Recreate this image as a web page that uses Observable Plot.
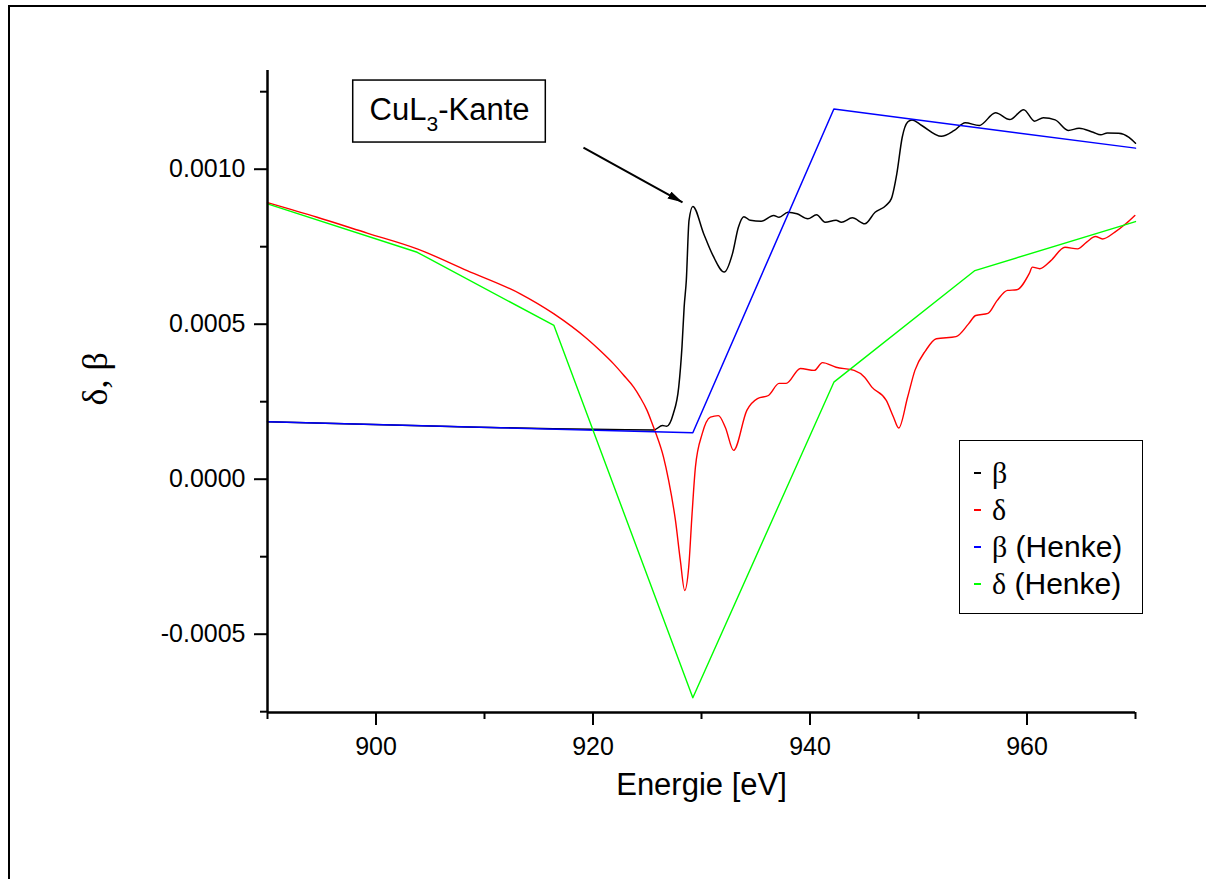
<!DOCTYPE html>
<html><head><meta charset="utf-8">
<script src="https://cdn.jsdelivr.net/npm/d3@7"></script>
<script src="https://cdn.jsdelivr.net/npm/@observablehq/plot@0.6"></script>
<style>
html,body{margin:0;padding:0;background:#fff;overflow:hidden;}
#wrap{position:relative;width:1206px;height:879px;overflow:hidden;}
#chart{position:absolute;left:0;top:0;}
#border{position:absolute;left:8px;top:5px;width:1300px;height:1000px;border-top:2px solid #000;border-left:2px solid #000;pointer-events:none;}
#legend{position:absolute;left:959px;top:440px;width:182px;height:172px;border:1.5px solid #000;background:#fff;font-family:"Liberation Sans",Arial,sans-serif;font-size:30px;color:#000;}
.row{position:absolute;left:0;height:34px;display:flex;align-items:center;white-space:pre;}
.dash{width:7px;height:2px;margin-left:14px;margin-right:11px;}
.g{font-family:"Liberation Serif","Times New Roman",serif;font-size:30px;}
</style></head>
<body><div id="wrap"><div id="chart"></div><div id="legend"></div><div id="border"></div></div>
<script>
// ---- data (values in units of 1e-4) ----
const UNIT = 1e-4;
const betaE = [890, 906.8, 925.6, 926.4, 926.8, 927.4, 927.9, 928.2, 928.4, 928.6, 928.85, 929.2, 930.2, 931.05, 932.1, 932.85, 933.4, 933.9, 934.5, 935.5, 936.65, 937.15, 937.97, 938.8, 939.8, 940.6, 941.4, 942.4, 942.9, 943.9, 945.05, 946.0, 947.0, 947.5, 948.0, 948.5, 949.0, 949.4, 950.3, 952.1, 953.3, 954.3, 955.6, 957.1, 958.4, 959.7, 960.7, 961.5, 962.6, 963.8, 964.8, 966.1, 966.8, 967.4, 968.45, 969.4, 970];
const betaV = [1.85, 1.70, 1.59, 1.73, 1.71, 2.11, 2.97, 4.26, 5.55, 6.41, 8.35, 8.80, 7.92, 7.22, 6.68, 7.27, 8.13, 8.47, 8.35, 8.32, 8.51, 8.45, 8.61, 8.56, 8.40, 8.53, 8.29, 8.35, 8.29, 8.43, 8.24, 8.61, 8.83, 9.05, 9.85, 11.03, 11.52, 11.59, 11.41, 11.06, 11.25, 11.50, 11.41, 11.82, 11.60, 11.92, 11.55, 11.66, 11.59, 11.25, 11.32, 11.19, 11.11, 11.17, 11.16, 11.03, 10.84];
const deltaE = [890, 894.57, 899.18, 903.79, 908.4, 913.3, 916.37, 919.45, 920.65, 921.9, 922.79, 923.75, 924.33, 924.98, 925.41, 925.75, 926.5, 926.97, 927.6, 928.05, 928.45, 928.82, 929.13, 929.44, 930.06, 930.82, 931.55, 932.2, 932.96, 934.18, 935.16, 936.17, 937.15, 937.8, 939.12, 940.4, 941.15, 942.4, 944.07, 945.03, 945.7, 947.03, 947.7, 948.18, 949.0, 949.67, 950.66, 951.64, 953.46, 954.61, 955.27, 956.4, 957.24, 958.2, 959.05, 960.2, 960.5, 961.17, 962.2, 963.5, 964.66, 965.5, 966.3, 966.96, 968.1, 969.1, 969.94];
const deltaV = [8.92, 8.45, 7.94, 7.43, 6.73, 5.98, 5.34, 4.53, 4.15, 3.72, 3.37, 2.97, 2.65, 2.22, 1.84, 1.52, 0.71, -0.04, -1.33, -2.62, -3.59, -2.84, -1.12, 0.39, 1.46, 2.00, 2.05, 1.67, 0.93, 2.22, 2.60, 2.70, 3.09, 3.09, 3.57, 3.51, 3.76, 3.61, 3.51, 3.29, 2.97, 2.54, 2.00, 1.65, 2.65, 3.51, 4.15, 4.53, 4.60, 5.01, 5.28, 5.35, 5.76, 6.09, 6.11, 6.63, 6.84, 6.79, 7.05, 7.48, 7.43, 7.65, 7.83, 7.75, 7.97, 8.24, 8.51];
const henkeBetaE = [890, 929.2, 942.2, 970];
const henkeBetaV = [1.85, 1.50, 11.94, 10.68];
const henkeDeltaE = [890, 903.8, 916.4, 929.2, 942.2, 955.2, 970];
const henkeDeltaV = [8.88, 7.32, 4.96, -7.05, 3.13, 6.73, 8.31];

const seriesNames = ["β", "δ", "β (Henke)", "δ (Henke)"];
const seriesColors = ["#000000", "#ff0000", "#0000ff", "#00ff00"];

const xTicksMajor = [900, 920, 940, 960];
const xTicksMinor = [890, 910, 930, 950, 970];
const yTicksMajor = [-0.0005, 0, 0.0005, 0.0010];
const yTicksMinor = [-0.00075, -0.00025, 0.00025, 0.00075, 0.00125];
const xDomain = [890, 970];
const yDomain = [-0.0007526, 0.0013184];
const xTitle = "Energie [eV]";
const yTitle = "δ, β";
const annoText = "CuL₃-Kante";
// annotation (in data units)
const annoBox = {x1: 897.9, x2: 915.65, y1: 0.001086, y2: 0.001286, tx: 906.78, ty: 0.00119};
const annoArrow = {x1: 919.12, y1: 0.00107, x2: 928.25, y2: 0.000893};

function toRows(E, V, name) {
  const n = Math.min(E.length, V.length);
  return d3.range(n).map(i => ({e: E[i], v: V[i] * UNIT, s: name}));
}
const rows = [
  toRows(betaE, betaV, seriesNames[0]),
  toRows(deltaE, deltaV, seriesNames[1]),
  toRows(henkeBetaE, henkeBetaV, seriesNames[2]),
  toRows(henkeDeltaE, henkeDeltaV, seriesNames[3])
];

const svg = Plot.plot({
  width: 1206,
  height: 879,
  marginLeft: 267,
  marginRight: 71,
  marginTop: 70,
  marginBottom: 167,
  style: {background: "transparent", color: "#000", fontFamily: "'Liberation Sans', Arial, sans-serif", overflow: "visible"},
  x: {domain: xDomain, label: null},
  y: {domain: yDomain, label: null},
  marks: [
    Plot.line(rows[0], {x: "e", y: "v", stroke: seriesColors[0], strokeWidth: 1.5, curve: "monotone-x"}),
    Plot.line(rows[1], {x: "e", y: "v", stroke: seriesColors[1], strokeWidth: 1.4, curve: "monotone-x"}),
    Plot.line(rows[2], {x: "e", y: "v", stroke: seriesColors[2], strokeWidth: 1.5}),
    Plot.line(rows[3], {x: "e", y: "v", stroke: seriesColors[3], strokeWidth: 1.4}),
    // axes lines
    Plot.ruleX([xDomain[0]], {stroke: "#000", strokeWidth: 2.5}),
    Plot.ruleY([yDomain[0]], {stroke: "#000", strokeWidth: 2.5}),
    Plot.axisX({ticks: xTicksMajor, tickSize: 13, tickPadding: 12, fontSize: 25, strokeWidth: 2, label: null, tickFormat: d => String(d)}),
    Plot.axisX({ticks: xTicksMinor, tickSize: 7, strokeWidth: 2, label: null, tickFormat: () => ""}),
    Plot.axisY({ticks: yTicksMajor, tickSize: 13, tickPadding: 9, fontSize: 25, strokeWidth: 2, label: null, tickFormat: d => d.toFixed(4)}),
    Plot.axisY({ticks: yTicksMinor, tickSize: 7, strokeWidth: 2, label: null, tickFormat: () => ""}),
    // titles
    Plot.text([xTitle], {text: d => d, frameAnchor: "bottom", dy: 82, fontSize: 31, fill: "#000"}),
    Plot.text([yTitle], {text: d => d, frameAnchor: "left", rotate: -90, dx: -172, dy: 14, fontSize: 36, fill: "#000", fontFamily: "'Liberation Serif', 'Times New Roman', serif"}),
    // annotation
    Plot.rect([annoBox], {x1: "x1", x2: "x2", y1: "y1", y2: "y2", fill: "white", stroke: "#000", strokeWidth: 1.5}),
    Plot.text([annoBox], {x: "tx", y: "ty", text: () => annoText, fontSize: 31, fill: "#000"}),
    Plot.link([annoArrow], {x1: "x1", y1: "y1", x2: "x2", y2: "y2", stroke: "#000", strokeWidth: 2})
  ]
});
document.getElementById("chart").appendChild(svg);

// filled arrowhead
const sel = d3.select(svg);
const defs = sel.append("defs");
defs.append("marker").attr("id", "ahead").attr("viewBox", "0 0 15 8").attr("refX", 15).attr("refY", 4)
  .attr("markerWidth", 15).attr("markerHeight", 8).attr("markerUnits", "userSpaceOnUse").attr("orient", "auto")
  .append("path").attr("d", "M0,0L15,4L0,8Z").attr("fill", "#000");
sel.selectAll('g[aria-label="link"] path').attr("marker-end", "url(#ahead)");

// subscript in annotation
sel.selectAll("text").each(function() {
  if (this.textContent === annoText) {
    const t = d3.select(this);
    t.text(null);
    t.append("tspan").text("CuL");
    t.append("tspan").attr("font-size", 21).attr("dy", 11).text("3");
    t.append("tspan").attr("dy", -11).text("-Kante");
  }
});

// legend
const legend = d3.select("#legend");
const rowCenters = [33, 70, 107, 144];
seriesNames.forEach((name, i) => {
  const r = legend.append("div").attr("class", "row").style("top", (rowCenters[i] - 17 - 1.5) + "px");
  r.append("span").attr("class", "dash").style("background", seriesColors[i]);
  r.append("span").attr("class", "g").text(name.charAt(0));
  if (name.length > 1) r.append("span").text(name.slice(1));
});
</script>
</body></html>
